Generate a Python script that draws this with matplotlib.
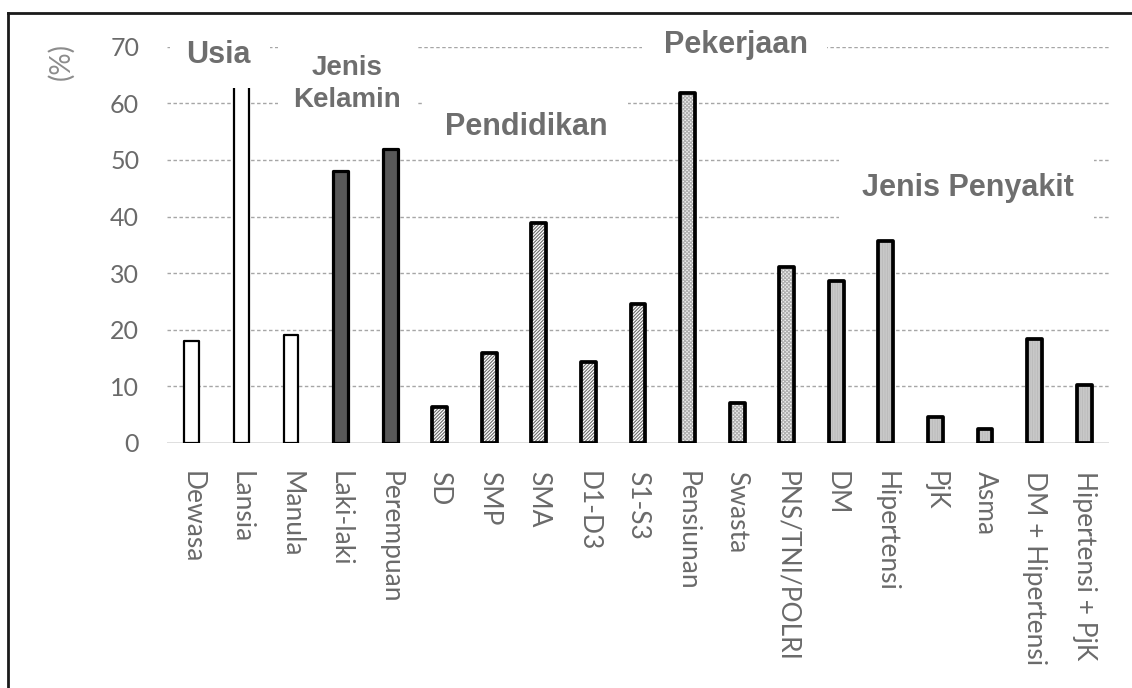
import matplotlib
matplotlib.use("Agg")
import matplotlib.pyplot as plt
from matplotlib.patches import Rectangle
from matplotlib.lines import Line2D

# ---- data ----
categories = ["Dewasa", "Lansia", "Manula", "Laki-laki", "Perempuan",
              "SD", "SMP", "SMA", "D1-D3", "S1-S3",
              "Pensiunan", "Swasta", "PNS/TNI/POLRI",
              "DM", "Hipertensi", "PjK", "Asma", "DM + Hipertensi", "Hipertensi + PjK"]
usia = [18, 63, 19]
jenis_kelamin = [48, 52]
pendidikan = [6.3, 15.9, 38.9, 14.3, 24.6]
pekerjaan = [61.9, 7.1, 31.0]
jenis_penyakit = [28.6, 35.7, 4.6, 2.5, 18.4, 10.2]
yticks = [0, 10, 20, 30, 40, 50, 60, 70]

groups = [usia, jenis_kelamin, pendidikan, pekerjaan, jenis_penyakit]
# style per group: facecolor, hatch, hatchcolor, edge linewidth
styles = [
    dict(fc="white", hatch=None, hc=None, lw=1.6),
    dict(fc="#585858", hatch=None, hc=None, lw=2.3),
    dict(fc="white", hatch="/" * 10, hc="#6a6a6a", lw=2.7),
    dict(fc="#f4f4f4", hatch="x" * 9, hc="#b0b0b0", lw=2.7),
    dict(fc="#d2d2d2", hatch="|" * 10, hc="#bcbcbc", lw=2.7),
]

plt.rcParams["hatch.linewidth"] = 0.8
W, H = 1132, 688
fig = plt.figure(figsize=(W / 100, H / 100), dpi=100)
ax = fig.add_axes([167 / W, (H - 443) / H, (1109 - 167) / W, (443 - 46.7) / H])

gray_text = "#6a6a6a"
label_gray = "#6e6e6e"

start = 0
for vals, st in zip(groups, styles):
    xs = list(range(start, start + len(vals)))
    if st["hatch"]:
        ax.bar(xs, vals, width=0.3, color=st["fc"], hatch=st["hatch"],
               edgecolor=st["hc"], linewidth=0, zorder=2)
    else:
        ax.bar(xs, vals, width=0.3, color=st["fc"], linewidth=0, zorder=2)
    ax.bar(xs, vals, width=0.3, fill=False, edgecolor="black",
           linewidth=st["lw"], zorder=2.1, joinstyle="round")
    start += len(vals)

n = len(categories)
ax.set_xlim(-0.5, n - 0.5)
ax.set_ylim(0, 70)
ax.set_yticks(yticks)
ax.set_xticks(range(n))
ax.set_xticklabels(categories, rotation=-90, fontfamily="Lato", fontsize=19,
                   color=gray_text)
ax.set_yticklabels([str(v) for v in yticks], fontfamily="Lato", fontsize=18,
                   color=gray_text)
ax.tick_params(axis="both", length=0)
ax.tick_params(axis="x", pad=20)
ax.tick_params(axis="y", pad=20)
for s in ax.spines.values():
    s.set_visible(False)

ax.set_axisbelow(True)
ax.yaxis.grid(True, color="#a6a6a6", linewidth=1.0, linestyle=(0, (2.5, 1.8)))
ax.get_ygridlines()[0].set_visible(False)
ax.axhline(0, color="#d9d9d9", linewidth=1.2, zorder=1)

# white text boxes (interrupt gridlines like the original)
def box(x0, x1, y0, y1):
    ax.add_patch(Rectangle((x0, y0), x1 - x0, y1 - y0, facecolor="white",
                           edgecolor="none", zorder=3, clip_on=False))

box(-0.44, 1.57, 62.7, 74)     # Usia
box(1.73, 4.54, 57.9, 74)      # Jenis Kelamin
box(4.66, 8.79, 51.8, 61.5)    # Pendidikan
box(9.09, 12.82, 65.9, 74)     # Pekerjaan
box(13.06, 18.2, 37.6, 51.8)   # Jenis Penyakit

tkw = dict(fontfamily="Liberation Sans", fontweight="bold", color=label_gray,
           ha="center", va="baseline", zorder=4)
ax.text(0.54, 67.1, "Usia", fontsize=22, **tkw)
ax.text(3.13, 65.0, "Jenis", fontsize=20, **tkw)
ax.text(3.13, 59.4, "Kelamin", fontsize=20, **tkw)
ax.text(10.98, 68.9, "Pekerjaan", fontsize=22, **tkw)
ax.text(6.74, 54.4, "Pendidikan", fontsize=22, **tkw)
ax.text(15.65, 43.6, "Jenis Penyakit", fontsize=22, **tkw)

fig.text(61 / W, 1 - 62 / H, "(%)", rotation=90, ha="center", va="center",
         fontfamily="Lato", fontsize=20, color="#8c8c8c")

# outer frame (top and left visible)
fig.add_artist(Line2D([8 / W, 8 / W], [0, 1 - 13 / H], transform=fig.transFigure,
                      color="#1a1a1a", linewidth=2.0))
fig.add_artist(Line2D([8 / W, 1.0], [1 - 13 / H, 1 - 13 / H], transform=fig.transFigure,
                      color="#1a1a1a", linewidth=2.0))

fig.savefig("out.png", dpi=100, facecolor="white")
